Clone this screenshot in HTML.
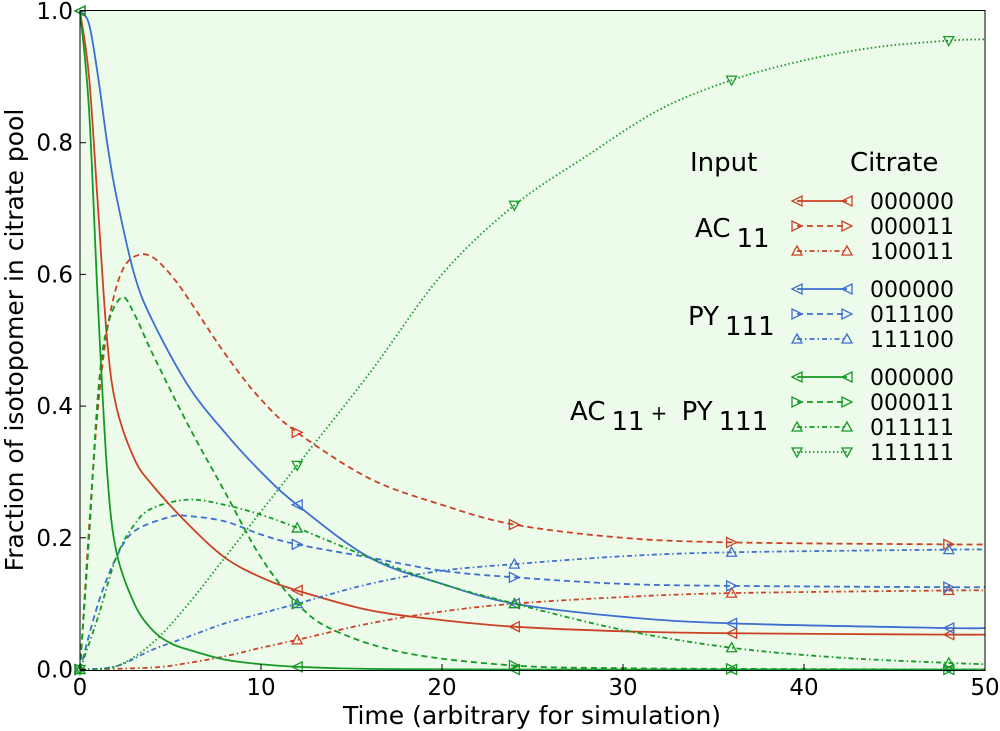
<!DOCTYPE html>
<html><head><meta charset="utf-8">
<style>
html,body{margin:0;padding:0;background:#fff;}
svg{display:block;font-family:"DejaVu Sans","Liberation Sans",sans-serif;}
</style></head>
<body>
<svg id="chart" width="1000" height="731" viewBox="0 0 1000 731">
<rect x="80" y="10.5" width="905" height="660" fill="#edfbeb"/>
<g id="series"></g>
<rect x="80" y="10.5" width="905" height="660" fill="none" stroke="#000" stroke-width="1"/>
<g id="ticks"></g>
<text x="532" y="724" font-size="25" text-anchor="middle">Time (arbitrary for simulation)</text>
<text transform="translate(23,340) rotate(-90)" font-size="25" text-anchor="middle">Fraction of isotopomer in citrate pool</text>
<g id="legend">
<text x="690" y="171" font-size="26">Input</text>
<text x="850" y="171" font-size="26">Citrate</text>
<text x="695" y="237" font-size="26">AC<tspan dx="6" dy="10">11</tspan></text>
<text x="688" y="325" font-size="26">PY<tspan dx="6" dy="10">111</tspan></text>
<text x="570" y="420" font-size="26">AC<tspan dx="6" dy="10">11</tspan><tspan dx="6" dy="-10" font-size="20">+</tspan><tspan dx="6"> PY</tspan><tspan dx="6" dy="10">111</tspan></text>
</g>
</svg>
<script>
const NS="http://www.w3.org/2000/svg";
// ---- data ----
const xTicks=[0,10,20,30,40,50];
const yTicks=[0.0,0.2,0.4,0.6,0.8,1.0];
const yTickLabels=["0.0","0.2","0.4","0.6","0.8","1.0"];
const markerTimes=[0,12,24,36,48];
const legendLabels=["000000","000011","100011","000000","011100","111100","000000","000011","011111","111111"];
const redSolidT=[0,0.5,1,1.5,2,3,4,6,8,10,12,16,20,24,30,36,48,50];
const redSolidV=[1.0,0.9,0.7,0.5,0.4,0.32,0.28,0.22,0.17,0.14,0.12,0.09,0.075,0.065,0.058,0.055,0.053,0.053];
const redDashT=[0,1,2,3.3,5,8,10,12,16,20,24,30,36,48,50];
const redDashV=[0,0.4,0.58,0.63,0.6,0.48,0.41,0.36,0.29,0.25,0.22,0.2,0.193,0.19,0.19];
const redDotT=[0,4,6,8,10,12,16,20,24,30,36,48,50];
const redDotV=[0,0.003,0.01,0.02,0.033,0.045,0.07,0.088,0.1,0.11,0.116,0.12,0.12];
const blueSolidT=[0,0.5,1,1.5,2,3,4,6,8,10,12,16,20,24,30,36,48,50];
const blueSolidV=[1.0,0.98,0.9,0.8,0.72,0.6,0.53,0.43,0.36,0.3,0.25,0.17,0.13,0.1,0.08,0.07,0.063,0.063];
const blueDashT=[0,1,2,3,5,6,8,10,12,16,20,24,30,36,48,50];
const blueDashV=[0,0.1,0.17,0.21,0.232,0.233,0.225,0.205,0.19,0.17,0.15,0.14,0.13,0.127,0.125,0.125];
const blueDotT=[0,2,4,6,8,10,12,16,20,24,30,36,48,50];
const blueDotV=[0,0.005,0.03,0.05,0.07,0.085,0.1,0.13,0.15,0.16,0.172,0.178,0.182,0.182];
const greenSolidT=[0,0.5,1,1.5,2,3,4,5,6,8,10,12,16,24,50];
const greenSolidV=[1.0,0.85,0.55,0.3,0.18,0.1,0.06,0.04,0.03,0.015,0.008,0.004,0.001,0,0];
const greenDashT=[0,0.5,1,1.5,2.3,3,4,6,8,10,12,14,18,24,30,36,48,50];
const greenDashV=[0,0.2,0.42,0.52,0.565,0.54,0.48,0.37,0.27,0.17,0.1,0.06,0.025,0.006,0.002,0.001,0,0];
const greenDashDotT=[0,1,2,3,4,6,8,10,12,16,20,24,30,36,42,48,50];
const greenDashDotV=[0,0.08,0.17,0.22,0.245,0.258,0.25,0.235,0.215,0.17,0.13,0.1,0.06,0.033,0.018,0.01,0.008];
const greenDotT=[0,2,4,6,8,10,12,16,20,24,28,32,36,40,44,48,50];
const greenDotV=[0,0.005,0.04,0.1,0.17,0.24,0.31,0.45,0.6,0.705,0.78,0.85,0.895,0.925,0.945,0.955,0.957];

const RED="#cc4125",BLUE="#3c6fd0",GREEN="#149a24";
const series=[
 {n:"ac11-000000",t:redSolidT,v:redSolidV,c:RED,d:"",m:"left"},
 {n:"ac11-000011",t:redDashT,v:redDashV,c:RED,d:"6,4",m:"right"},
 {n:"ac11-100011",t:redDotT,v:redDotV,c:RED,d:"5,3,1.5,3",m:"up"},
 {n:"py111-000000",t:blueSolidT,v:blueSolidV,c:BLUE,d:"",m:"left"},
 {n:"py111-011100",t:blueDashT,v:blueDashV,c:BLUE,d:"6,4",m:"right"},
 {n:"py111-111100",t:blueDotT,v:blueDotV,c:BLUE,d:"5,3,1.5,3",m:"up"},
 {n:"both-000000",t:greenSolidT,v:greenSolidV,c:GREEN,d:"",m:"left"},
 {n:"both-000011",t:greenDashT,v:greenDashV,c:GREEN,d:"6,4",m:"right"},
 {n:"both-011111",t:greenDashDotT,v:greenDashDotV,c:GREEN,d:"5,3,1.5,3",m:"up"},
 {n:"both-111111",t:greenDotT,v:greenDotV,c:GREEN,d:"1.5,2.5",m:"down"}
];
const X=t=>80+t*18.1;
const Y=v=>669.5-v*658.5;

function interp(T,V,t){
 for(let i=0;i<T.length-1;i++){ if(t>=T[i]&&t<=T[i+1]){const f=(t-T[i])/(T[i+1]-T[i]);return V[i]+f*(V[i+1]-V[i]);} }
 return V[V.length-1];
}
function smoothPath(T,V){
 const p=T.map((t,i)=>[X(t),Y(V[i])]);
 let d="M"+p[0][0]+","+p[0][1];
 for(let i=0;i<p.length-1;i++){
  const p0=p[i-1]||p[i],p1=p[i],p2=p[i+1],p3=p[i+2]||p2;
  const c1=[p1[0]+(p2[0]-p0[0])/6,p1[1]+(p2[1]-p0[1])/6];
  const c2=[p2[0]-(p3[0]-p1[0])/6,p2[1]-(p3[1]-p1[1])/6];
  d+=`C${c1[0]},${c1[1]} ${c2[0]},${c2[1]} ${p2[0]},${p2[1]}`;
 }
 return d;
}
function markerPts(type,x,y){
 const s=5;
 if(type==="left")return `${x-s},${y} ${x+s},${y-s} ${x+s},${y+s}`;
 if(type==="right")return `${x+s},${y} ${x-s},${y-s} ${x-s},${y+s}`;
 if(type==="up")return `${x},${y-s} ${x-s},${y+s*0.8} ${x+s},${y+s*0.8}`;
 return `${x},${y+s} ${x-s},${y-s*0.8} ${x+s},${y-s*0.8}`;
}
const sg=document.getElementById("series");
series.forEach(s=>{
 const g=document.createElementNS(NS,"g");
 
 
 const p=document.createElementNS(NS,"path");
 p.setAttribute("d",smoothPath(s.t,s.v));
 p.setAttribute("fill","none");p.setAttribute("stroke",s.c);p.setAttribute("stroke-width","1.8");
 if(s.d)p.setAttribute("stroke-dasharray",s.d);
 
 
 g.appendChild(p);
 markerTimes.forEach(t=>{
  const m=document.createElementNS(NS,"polygon");
  m.setAttribute("points",markerPts(s.m,X(t),Y(interp(s.t,s.v,t))));
  m.setAttribute("fill","none");m.setAttribute("stroke",s.c);m.setAttribute("stroke-width","1.3");
  
  
  g.appendChild(m);
 });
 sg.appendChild(g);
});
// ticks
const tg=document.getElementById("ticks");
xTicks.forEach(t=>{
 const l=document.createElementNS(NS,"line");
 l.setAttribute("x1",X(t));l.setAttribute("x2",X(t));l.setAttribute("y1",670.5);l.setAttribute("y2",664);l.setAttribute("stroke","#000");
 
 
 tg.appendChild(l);
 const tx=document.createElementNS(NS,"text");
 tx.setAttribute("x",X(t));tx.setAttribute("y",695);tx.setAttribute("font-size","23");tx.setAttribute("text-anchor","middle");
 tx.textContent=t;
 
 
 tg.appendChild(tx);
});
yTicks.forEach((v,i)=>{
 const l=document.createElementNS(NS,"line");
 l.setAttribute("x1",80);l.setAttribute("x2",86);l.setAttribute("y1",Y(v));l.setAttribute("y2",Y(v));l.setAttribute("stroke","#000");
 
 
 tg.appendChild(l);
 const tx=document.createElementNS(NS,"text");
 tx.setAttribute("x",73);tx.setAttribute("y",Y(v)+8);tx.setAttribute("font-size","23");tx.setAttribute("text-anchor","end");
 tx.textContent=yTickLabels[i];
 
 
 tg.appendChild(tx);
});
// legend entries
const lg=document.getElementById("legend");
const rowY=[201,226,251,289,314,339,377,402,427,452];
series.forEach((s,i)=>{
 const y=rowY[i];
 const g=document.createElementNS(NS,"g");
 
 
 const l=document.createElementNS(NS,"line");
 l.setAttribute("x1",797);l.setAttribute("x2",847);l.setAttribute("y1",y);l.setAttribute("y2",y);
 l.setAttribute("stroke",s.c);l.setAttribute("stroke-width","1.8");if(s.d)l.setAttribute("stroke-dasharray",s.d);
 g.appendChild(l);
 [797,847].forEach(x=>{
  const m=document.createElementNS(NS,"polygon");
  m.setAttribute("points",markerPts(s.m,x,y));
  m.setAttribute("fill","none");m.setAttribute("stroke",s.c);m.setAttribute("stroke-width","1.3");
  g.appendChild(m);
 });
 const tx=document.createElementNS(NS,"text");
 tx.setAttribute("x",870);tx.setAttribute("y",y+8);tx.setAttribute("font-size","22");
 tx.textContent=legendLabels[i];
 g.appendChild(tx);
 lg.appendChild(g);
});
</script>
</body></html>
